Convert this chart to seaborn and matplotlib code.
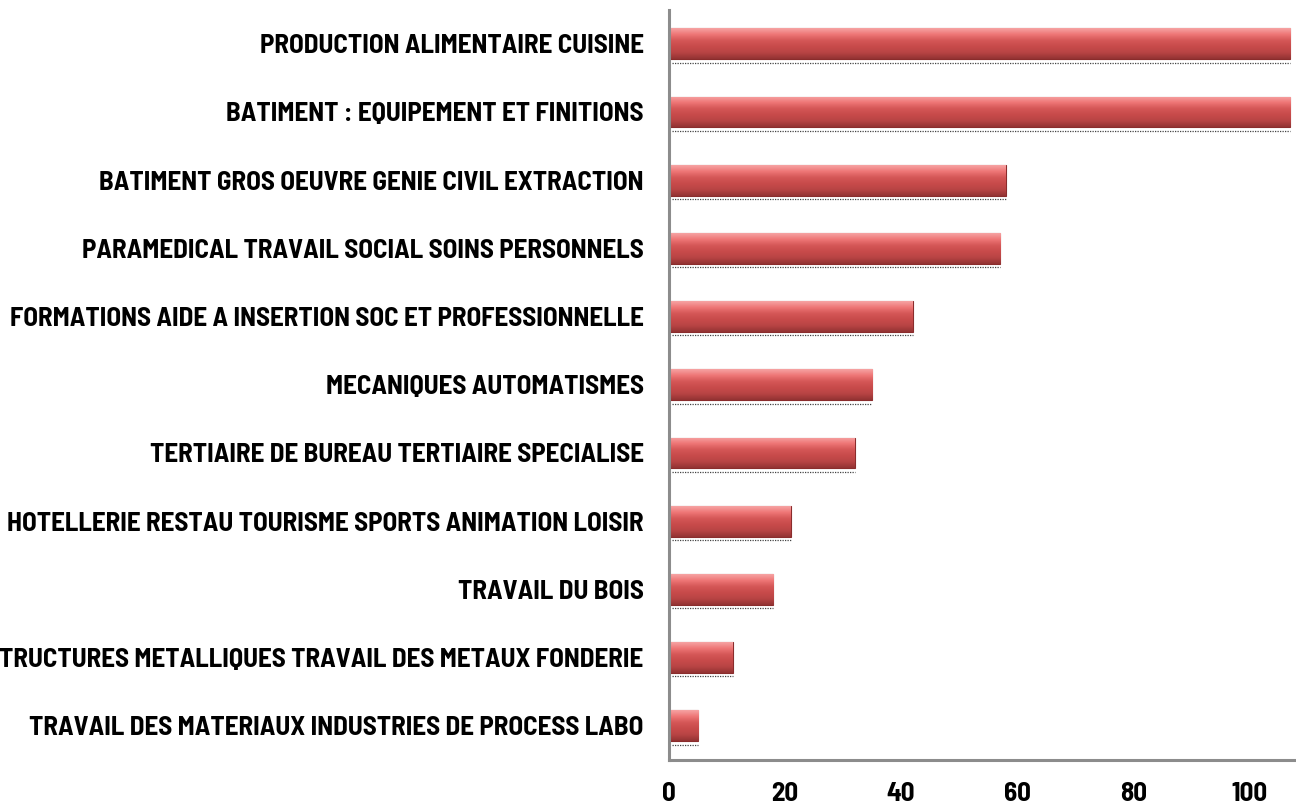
"""Horizontal bar chart: formations by domain."""

import matplotlib

matplotlib.use("Agg")

import matplotlib.pyplot as plt
import numpy as np
import pandas as pd
import seaborn as sns
from matplotlib.colors import LinearSegmentedColormap

categories = [
    "PRODUCTION ALIMENTAIRE CUISINE",
    "BATIMENT : EQUIPEMENT ET FINITIONS",
    "BATIMENT GROS OEUVRE GENIE CIVIL EXTRACTION",
    "PARAMEDICAL TRAVAIL SOCIAL SOINS PERSONNELS",
    "FORMATIONS AIDE A INSERTION SOC ET PROFESSIONNELLE",
    "MECANIQUES AUTOMATISMES",
    "TERTIAIRE DE BUREAU TERTIAIRE SPECIALISE",
    "HOTELLERIE RESTAU TOURISME SPORTS ANIMATION LOISIR",
    "TRAVAIL DU BOIS",
    "STRUCTURES METALLIQUES TRAVAIL DES METAUX FONDERIE",
    "TRAVAIL DES MATERIAUX INDUSTRIES DE PROCESS LABO",
]
values = [107, 107, 58, 57, 42, 35, 32, 21, 18, 11, 5]
x_ticks = [0, 20, 40, 60, 80, 100]

frame = pd.DataFrame({"domaine": categories, "effectif": values})

sns.set_style("white")
plt.rcParams["font.family"] = ["Barlow Semi Condensed", "DejaVu Sans"]

figure = plt.figure(figsize=(12.96, 8.05), dpi=100)
axis = figure.add_axes([0.516, 0.056, 0.484, 0.932])

bar_height = 0.45
sns.barplot(data=frame, x="effectif", y="domaine", orient="h", width=bar_height,
            color="#c44a4a", edgecolor="#8a2c2c", linewidth=0.8, ax=axis)

# cylinder-like vertical gradient on each bar
gradient = LinearSegmentedColormap.from_list(
    "bar", ["#f6a3a3", "#ee7676", "#d45757", "#c84a4a", "#b84444", "#933333"])
column = np.linspace(0, 1, 64).reshape(-1, 1)
for patch in axis.patches:
    x0, y0 = patch.get_x(), patch.get_y()
    x1, y1 = x0 + patch.get_width(), y0 + patch.get_height()
    image = axis.imshow(column, cmap=gradient, aspect="auto", origin="upper",
                        extent=(x0, x1, y1, y0), zorder=patch.get_zorder() + 0.1)
    image.set_clip_path(patch)

# dotted shadow under each bar
positions = np.arange(len(categories))
axis.hlines(positions + bar_height / 2 + 0.05, 0.6, frame["effectif"], colors="#444444",
            linestyles=(0, (1, 1)), linewidth=0.9, zorder=1)

axis.set_xlim(0, 108)
axis.set_ylim(len(categories) - 0.5, -0.5)
axis.set_xticks(x_ticks)
axis.set_xlabel("")
axis.set_ylabel("")

for side in ("top", "right"):
    axis.spines[side].set_visible(False)
for side in ("left", "bottom"):
    axis.spines[side].set_color("#8c8c8c")
    axis.spines[side].set_linewidth(2.2)

axis.tick_params(axis="x", direction="out", length=6, width=2, color="#8c8c8c",
                 pad=10, labelsize=19.5, labelcolor="black")
axis.tick_params(axis="y", length=0, pad=18, labelsize=19.5, labelcolor="black")
for label in axis.get_xticklabels() + axis.get_yticklabels():
    label.set_fontweight("bold")

figure.savefig("out.png", dpi=100)
plt.close(figure)
